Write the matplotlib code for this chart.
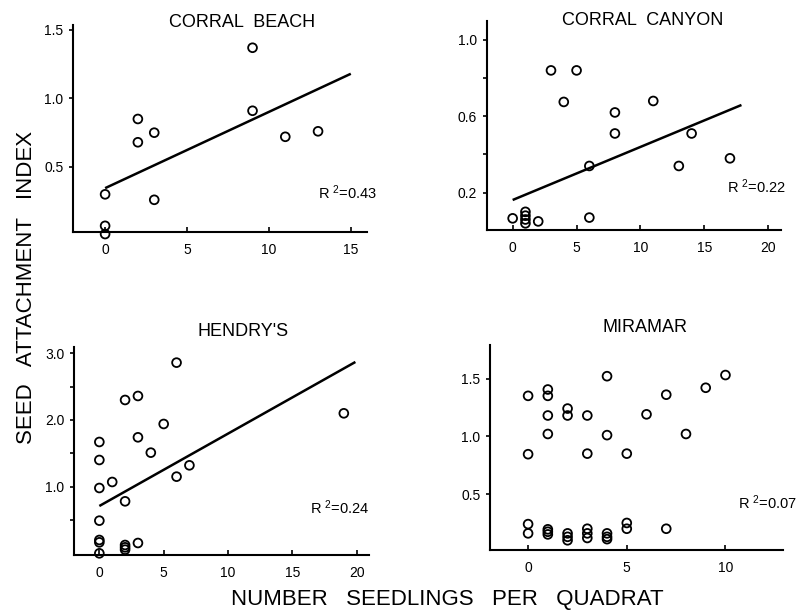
import matplotlib
matplotlib.use("Agg")
import matplotlib.pyplot as plt
from matplotlib.ticker import FixedLocator

plt.rcParams['font.family'] = ['Liberation Sans', 'DejaVu Sans']
plt.rcParams['mathtext.fontset'] = 'custom'
plt.rcParams['mathtext.rm'] = 'Liberation Sans'
plt.rcParams['mathtext.default'] = 'regular'

# ---------------- data ----------------
cb_x = [0, 0, 0, 2, 2, 3, 3, 9, 9, 11, 13]
cb_y = [0.30, 0.07, 0.01, 0.85, 0.68, 0.75, 0.26, 1.37, 0.91, 0.72, 0.76]
cb_fit_x = [0, 15]
cb_fit_y = [0.345, 1.18]
cb_r2 = "0.43"

cc_x = [0, 1, 1, 1, 1, 2, 3, 4, 5, 6, 6, 8, 8, 11, 13, 14, 17]
cc_y = [0.066, 0.10, 0.08, 0.06, 0.04, 0.05, 0.84, 0.675, 0.84, 0.34, 0.07,
        0.62, 0.51, 0.68, 0.34, 0.51, 0.38]
cc_fit_x = [0, 17.9]
cc_fit_y = [0.162, 0.659]
cc_r2 = "0.22"

he_x = [0, 0, 0, 0, 0, 0, 0, 1, 2, 2, 2, 2, 2, 3, 3, 3, 4, 5, 6, 6, 7, 19]
he_y = [1.67, 1.40, 0.98, 0.49, 0.20, 0.165, 0.0, 1.07, 2.30, 0.78, 0.125,
        0.09, 0.055, 2.36, 1.74, 0.155, 1.51, 1.94, 2.86, 1.15, 1.32, 2.10]
he_fit_x = [0, 19.9]
he_fit_y = [0.71, 2.87]
he_r2 = "0.24"

mi_x = [0, 0, 0, 0,
        1, 1, 1, 1, 1, 1, 1,
        2, 2, 2, 2, 2,
        3, 3, 3, 3, 3,
        4, 4, 4, 4, 4,
        5, 5, 5,
        6,
        7, 7,
        8, 9, 10]
mi_y = [1.35, 0.845, 0.24, 0.16,
        1.405, 1.35, 1.18, 1.02, 0.195, 0.174, 0.151,
        1.24, 1.18, 0.16, 0.13, 0.10,
        1.18, 0.85, 0.20, 0.16, 0.12,
        1.52, 1.01, 0.16, 0.13, 0.11,
        0.85, 0.25, 0.20,
        1.19,
        1.36, 0.20,
        1.02, 1.42, 1.53]
mi_r2 = "0.07"

titles = ["CORRAL  BEACH", "CORRAL  CANYON", "HENDRY'S", "MIRAMAR"]
xlabel = "NUMBER   SEEDLINGS   PER   QUADRAT"
ylabel = "SEED   ATTACHMENT   INDEX"

# ---------------- layout ----------------
W, H = 804, 612
fig = plt.figure(figsize=(W / 100, H / 100), dpi=100)
fig.patch.set_facecolor('white')


def make_ax(l, t, r, b):
    return fig.add_axes([l / W, 1 - b / H, (r - l) / W, (b - t) / H])


panels = [
    dict(box=(73, 25, 366.7, 232), x=cb_x, y=cb_y, fx=cb_fit_x, fy=cb_fit_y,
         r2=cb_r2, xlim=(-1.96, 15.97), ylim=(0.025, 1.536),
         xt=[0, 5, 10, 15], yt=[0.5, 1.0, 1.5], ymin=[],
         ylab=["0.5", "1.0", "1.5"], title=titles[0], tpos=(0.574, 0.992),
         rpos=(0.834, 0.188)),
    dict(box=(486.7, 20.7, 780.7, 230), x=cc_x, y=cc_y, fx=cc_fit_x, fy=cc_fit_y,
         r2=cc_r2, xlim=(-2.03, 20.97), ylim=(0.005, 1.10),
         xt=[0, 5, 10, 15, 20], yt=[0.2, 0.6, 1.0], ymin=[0.4, 0.8],
         ylab=["0.2", "0.6", "1.0"], title=titles[1], tpos=(0.532, 0.979),
         rpos=(0.817, 0.205)),
    dict(box=(74, 347.3, 369.3, 555), x=he_x, y=he_y, fx=he_fit_x, fy=he_fit_y,
         r2=he_r2, xlim=(-1.97, 20.98), ylim=(-0.025, 3.09),
         xt=[0, 5, 10, 15, 20], yt=[1.0, 2.0, 3.0], ymin=[0.5, 1.5, 2.5],
         ylab=["1.0", "2.0", "3.0"], title=titles[2], tpos=(0.573, 1.056),
         rpos=(0.799, 0.226)),
    dict(box=(490, 345, 782.7, 550), x=mi_x, y=mi_y, fx=None, fy=None,
         r2=mi_r2, xlim=(-1.93, 12.9), ylim=(0.016, 1.79),
         xt=[0, 5, 10], yt=[0.5, 1.0, 1.5], ymin=[],
         ylab=["0.5", "1.0", "1.5"], title=titles[3], tpos=(0.53, 1.065),
         rpos=(0.847, 0.229)),
]

for p in panels:
    ax = make_ax(*p['box'])
    ax.set_facecolor('none')
    ax.scatter(p['x'], p['y'], s=40, facecolors='none', edgecolors='black',
               linewidths=1.3, clip_on=False, zorder=3)
    if p['fx'] is not None:
        ax.plot(p['fx'], p['fy'], color='black', lw=1.8, solid_capstyle='butt',
                zorder=2)
    ax.set_xlim(*p['xlim'])
    ax.set_ylim(*p['ylim'])
    for s in ('top', 'right'):
        ax.spines[s].set_visible(False)
    for s in ('left', 'bottom'):
        ax.spines[s].set_linewidth(1.5)
        ax.spines[s].set_color('black')
    ax.set_xticks(p['xt'])
    ax.set_xticklabels([str(v) for v in p['xt']])
    ax.set_yticks(p['yt'])
    ax.set_yticklabels(p['ylab'])
    if p['ymin']:
        ax.yaxis.set_minor_locator(FixedLocator(p['ymin']))
    ax.tick_params(axis='x', direction='in', length=3.5, width=1.2, pad=8,
                   labelsize=10, colors='black')
    ax.tick_params(axis='y', which='both', direction='out', length=3,
                   width=1.2, pad=4, labelsize=10, colors='black')
    ax.text(p['tpos'][0], p['tpos'][1], p['title'], transform=ax.transAxes,
            ha='center', va='baseline', fontsize=13, color='black')
    ax.text(p['rpos'][0], p['rpos'][1], "R $^{2}$=" + p['r2'],
            transform=ax.transAxes, ha='left', va='center', fontsize=10.5,
            color='black')

fig.text(447 / W, 1 - 600 / H, xlabel, ha='center', va='center',
         fontsize=16, color='black')
fig.text(26.7 / W, 1 - 287 / H, ylabel, ha='center', va='center',
         rotation=90, fontsize=16, color='black')

fig.savefig("out.png", dpi=100, facecolor='white')
